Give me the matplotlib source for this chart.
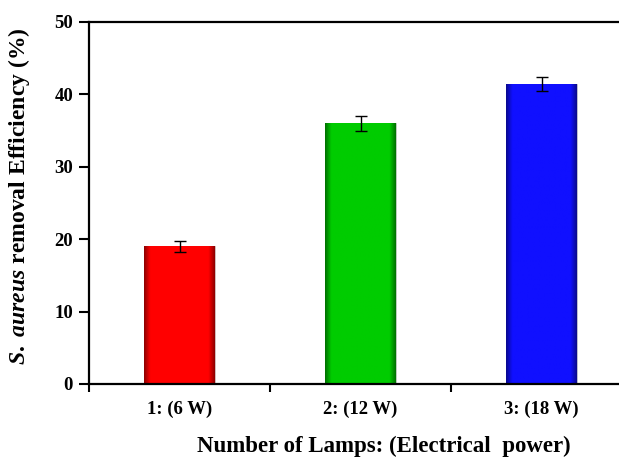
import numpy as np
import matplotlib.pyplot as plt
from matplotlib.colors import to_rgb

# data
categories = ["1: (6 W)", "2: (12 W)", "3: (18 W)"]
efficiency = [19.0, 36.0, 41.4]
errors = [0.8, 1.0, 0.95]
bar_colors = ["#FF0000", "#00CC00", "#1010FF"]

plt.rcParams["font.family"] = "Liberation Serif"
plt.rcParams["font.weight"] = "bold"
plt.rcParams["mathtext.fontset"] = "custom"
plt.rcParams["mathtext.rm"] = "Liberation Serif:bold"
plt.rcParams["mathtext.it"] = "Liberation Serif:italic:bold"
plt.rcParams["mathtext.bf"] = "Liberation Serif:bold"

fig = plt.figure(figsize=(6.19, 4.61), dpi=100)
W, H = 619, 461
ax = fig.add_axes([89 / W, 1 - 384 / H, (619 - 89) / W, (384 - 22) / H])

x = np.arange(len(categories))
width = 0.39

bars = ax.bar(x, efficiency, width=width, color=bar_colors,
              edgecolor="#c8c8c8", linewidth=0.6, zorder=2)

# shade each bar so the edges look darker (like the original 3D-ish fill)
u = np.linspace(0, 1, 200)
prof = np.ones_like(u)
edge = 0.09
prof = np.where(u < edge, 0.55 + 0.45 * (u / edge), prof)
prof = np.where(u > 1 - edge, 0.55 + 0.45 * ((1 - u) / edge), prof)
for b, c in zip(bars, bar_colors):
    rgb = np.array(to_rgb(c))
    img = prof[None, :, None] * rgb[None, None, :]
    x0, y0 = b.get_x(), b.get_y()
    w, h = b.get_width(), b.get_height()
    im = ax.imshow(img, extent=[x0, x0 + w, y0, y0 + h], aspect="auto",
                   origin="lower", zorder=2.5, interpolation="bilinear")
    im.set_clip_path(b)

ax.errorbar(x, efficiency, yerr=errors, fmt="none", ecolor="black",
            elinewidth=1.0, capsize=4, capthick=1.0, zorder=3)

ax.set_xlim(-0.5, -0.5 + 530 / 181)
ax.set_ylim(0, 50)
ax.set_yticks([0, 10, 20, 30, 40, 50])
ax.set_xticks([-0.5, 0.5, 1.5])
ax.set_xticklabels([])
ax.set_xticks(x, minor=True)
ax.set_xticklabels(categories, minor=True)
ax.tick_params(axis="x", which="minor", length=0, pad=12, labelsize=13.5)
ax.tick_params(axis="x", which="major", length=6, width=1.5, direction="out")
ax.tick_params(axis="y", length=7, width=1.5, direction="out", pad=4.5, labelsize=13.5)

for side in ["left", "bottom", "top"]:
    ax.spines[side].set_linewidth(1.6)
ax.spines["right"].set_visible(False)

ax.set_xlabel("Number of Lamps: (Electrical  power)", fontsize=16.5, fontweight="bold")
ax.xaxis.set_label_coords(0.557, -0.143)
ax.set_ylabel(r"$\mathit{S.\ aureus}$ removal Efficiency (%)", fontsize=17, fontweight="bold")
ax.yaxis.set_label_coords(-0.108, 0.52)

fig.savefig("out.png", dpi=100)
